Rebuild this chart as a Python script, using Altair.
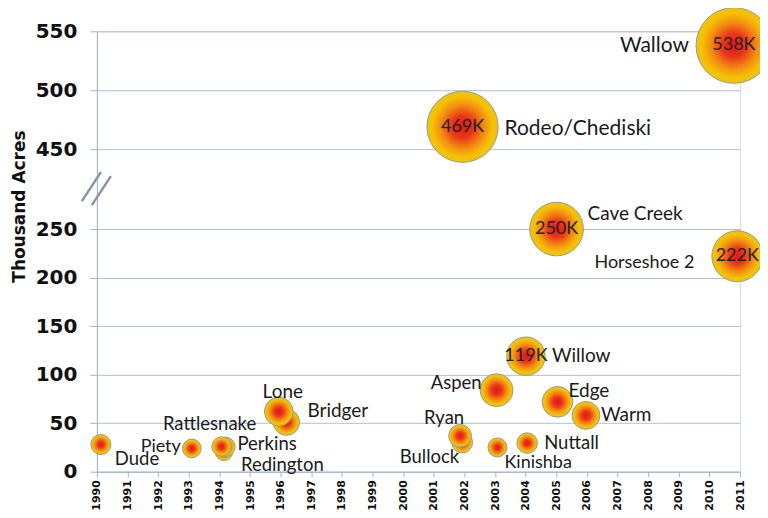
import altair as alt
import pandas as pd

# ---- data ----
names = ["Dude", "Piety", "Redington", "Perkins", "Rattlesnake", "Bridger", "Lone",
         "Bullock", "Ryan", "Rodeo/Chediski", "Aspen", "Kinishba", "Nuttall", "Willow",
         "Cave Creek", "Edge", "Warm", "Horseshoe 2", "Wallow"]
years = [1990.13, 1993.10, 1994.15, 1994.20, 1994.07, 1996.19, 1995.94,
         2001.93, 2001.86, 2001.94, 2003.05, 2003.08, 2004.05, 2004.01,
         2005.01, 2005.04, 2005.97, 2010.91, 2010.80]
acres = [28, 24, 20.5, 25.7, 26, 51, 62,
         30, 37, 469, 84, 25, 29.5, 119,
         250, 72, 58, 222, 538]
year_ticks = list(range(1990, 2012))
acre_ticks = [0, 50, 100, 150, 200, 250, 450, 500, 550]

# ---- broken axis mapping (lower part 0-250, upper part 450-550) ----
LOW_TOP, HIGH_BOTTOM, GAP, UP = 250, 450, 82.3, 1.214


def to_disp(v):
    return v if v <= 300 else LOW_TOP + GAP + (v - HIGH_BOTTOM) * UP


disp_expr = (f"datum.acres <= 300 ? datum.acres : "
             f"{LOW_TOP + GAP} + (datum.acres - {HIGH_BOTTOM}) * {UP}")
label_expr = (f"datum.value <= 300 ? format(datum.value, 'd') : "
              f"format(round({HIGH_BOTTOM} + (datum.value - {LOW_TOP + GAP}) / {UP}), 'd')")

# label placement: align, dx, dy, font size
placement = {
    "Wallow": ("right", -45, 1, 21),
    "Rodeo/Chediski": ("left", 42, 2, 21),
    "Cave Creek": ("left", 31, -15, 19),
    "Horseshoe 2": ("right", -43, 7, 18),
    "Willow": ("left", 26, 0, 19),
    "Aspen": ("right", -15, -7, 18.5),
    "Edge": ("left", 11, -11, 19),
    "Warm": ("left", 15, 0, 19),
    "Ryan": ("center", -16, -18, 18.5),
    "Bullock": ("right", -3, 14, 18.5),
    "Kinishba": ("left", 7, 16, 18),
    "Nuttall": ("left", 17, 0, 18.5),
    "Lone": ("center", 4, -20, 19),
    "Bridger": ("left", 21, -11, 19),
    "Rattlesnake": ("center", -12, -23, 18.5),
    "Perkins": ("left", 12, -3, 18.5),
    "Redington": ("left", 17, 13, 18.5),
    "Piety": ("right", -11, -1, 18),
    "Dude": ("left", 14, 14, 18.5),
}

df = pd.DataFrame({"name": names, "year": years, "acres": acres})

grid_cond = alt.condition("datum.value == 250 || datum.value > 450",
                          alt.value("#dcaab2"), alt.value("#a9c2da"))

x_enc = alt.X("year:Q",
              scale=alt.Scale(domain=[1990, 2011], nice=False, zero=False),
              axis=alt.Axis(values=year_ticks, format="d", labelAngle=270, title=None,
                            grid=False, labelFont="DejaVu Sans", labelFontWeight="bold",
                            labelFontSize=11, labelColor="#111111", labelPadding=3,
                            tickSize=5, tickColor="#9fb6c8", domainColor="#9fb6c8",
                            labelFlush=False, labelOverlap=False))
y_enc = alt.Y("yd:Q",
              scale=alt.Scale(domain=[0, to_disp(550)], nice=False, zero=True),
              axis=alt.Axis(values=[to_disp(v) for v in acre_ticks], labelExpr=label_expr,
                            title="Thousand Acres", titleFont="DejaVu Sans",
                            titleFontWeight="bold", titleFontSize=17, titleColor="#111111",
                            titleAngle=270, titleX=-77, titleY=175, titleAlign="center",
                            titleBaseline="middle",
                            grid=True, gridColor=grid_cond, gridWidth=1,
                            labelFont="DejaVu Sans", labelFontWeight="bold",
                            labelFontSize=20, labelColor="#111111", labelPadding=13,
                            tickSize=7, tickColor="#9fb6c8", domainColor="#9fb6c8",
                            labelOverlap=False, labelFlush=False))

base = alt.Chart(df).transform_calculate(yd=disp_expr)

gradient = alt.RadialGradient(
    gradient="radial",
    stops=[alt.GradientStop(color="#e4161c", offset=0),
           alt.GradientStop(color="#ea3418", offset=0.3),
           alt.GradientStop(color="#f28a12", offset=0.6),
           alt.GradientStop(color="#f6c004", offset=0.85),
           alt.GradientStop(color="#f2c400", offset=1)])

bubbles = base.mark_circle(fill=gradient, opacity=1, stroke="#8a9e9c",
                           strokeWidth=1).encode(
    x=x_enc, y=y_enc,
    size=alt.Size("acres:Q", scale=alt.Scale(type="pow", exponent=0.9,
                                             domain=[0, 540], range=[0, 5776]),
                  legend=None),
)

values = base.transform_filter("datum.acres >= 100").transform_calculate(
    lab="format(round(datum.acres), 'd') + 'K'"
).mark_text(font="Lato", fontSize=18, color="#222222", baseline="middle",
            align="center").encode(x=x_enc, y=y_enc, text="lab:N")

layers = [bubbles, values]
for nm, (al, dx, dy, fs) in placement.items():
    layers.append(
        base.transform_filter(alt.datum.name == nm).mark_text(
            font="Lato", fontSize=fs, color="#1a1a1a", align=al, baseline="middle",
            dx=dx, dy=dy).encode(x=x_enc, y=y_enc, text="name:N"))

# axis break marks (decoration)
one = pd.DataFrame({"k": [0]})
brk1 = alt.Chart(one).mark_rule(color="#8796a4", strokeWidth=2.5).encode(
    x=alt.value(-15), x2=alt.value(4), y=alt.value(170), y2=alt.value(141))
brk2 = alt.Chart(one).mark_rule(color="#8796a4", strokeWidth=2.5).encode(
    x=alt.value(-5), x2=alt.value(14), y=alt.value(174), y2=alt.value(145))
layers += [brk1, brk2]

chart = alt.layer(*layers).properties(
    width=644, height=441,
    autosize=alt.AutoSizeParams(type="none"),
    padding={"left": 89, "top": 23, "right": 20, "bottom": 38},
).configure_view(stroke=None).configure(background="white")

chart.save("out.html", embed_options={"renderer": "svg", "actions": False})
